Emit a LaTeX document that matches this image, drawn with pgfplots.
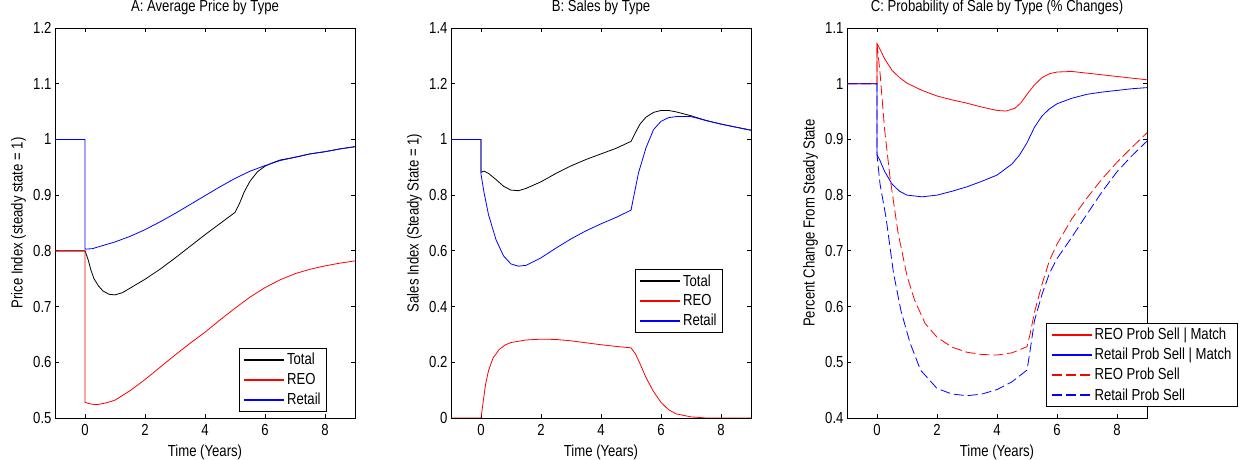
\documentclass[border=0pt]{standalone}
\usepackage{fontspec}
\setmainfont{Liberation Sans}[FakeStretch=0.82]
\usepackage{pgfplots}
\pgfplotsset{compat=1.18}
\pgfplotsset{
  every axis/.append style={
    scale only axis, width=300pt, height=390pt, anchor=south west,
    font=\fontsize{16}{19}\selectfont,
    /pgf/number format/assume math mode=true,
    xmin=-1, xmax=9, xtick={0,2,4,6,8},
    tick align=inside, major tick length=4pt,
    axis line style={line width=0.8pt}, every tick/.style={black, line width=0.8pt},
    xlabel={Time (Years)},
    xlabel style={at={(axis description cs:0.5,-0.087)}, anchor=center},
    ylabel style={at={(axis description cs:-0.122,0.5)}, anchor=center},
    title style={at={(axis description cs:0.5,1.038)}, anchor=center},
    xticklabel style={yshift=-3pt},
    legend cell align=left,
    legend style={line width=1pt, font=\fontsize{16}{19}\selectfont, inner xsep=4pt, inner ysep=3pt, row sep=3pt},
    legend image code/.code={\draw[#1] (0pt,0pt) -- (40pt,0pt);},
    legend image post style={line width=1.6pt},
  },
}
\begin{document}
\begin{tikzpicture}
\path[use as bounding box] (0,0) rectangle (1239pt,460pt);
% Panel A
\begin{axis}[at={(55pt,42pt)},
  ymin=0.5, ymax=1.2, ytick={0.5,0.6,0.7,0.8,0.9,1,1.1,1.2},
  title={A: Average Price by Type}, ylabel={Price Index (steady state = 1)},
  legend style={at={(axis description cs:0.907,0.016)}, anchor=south east}]
\addplot[draw=black, line width=0.8pt] coordinates {(-1,0.8)(0,0.8)(0.1,0.785)(0.2,0.765)(0.3,0.750)(0.45,0.737)(0.6,0.728)(0.8,0.722)(1,0.721)(1.25,0.725)(1.5,0.733)(2,0.749)(2.5,0.767)(3,0.787)(3.5,0.808)(4,0.829)(4.5,0.849)(5,0.869)(5.15,0.885)(5.3,0.905)(5.5,0.925)(5.75,0.942)(6,0.952)(6.25,0.958)(6.5,0.963)(7,0.968)(7.5,0.974)(8,0.978)(8.5,0.983)(9,0.987)};
\addlegendentry{Total}
\addplot[draw=red, line width=0.8pt] coordinates {(-1,0.8)(0,0.8)(0,0.528)(0.2,0.525)(0.4,0.524)(0.7,0.527)(1,0.532)(1.5,0.549)(2,0.569)(2.5,0.591)(3,0.613)(3.5,0.634)(4,0.654)(4.5,0.676)(5,0.697)(5.5,0.717)(6,0.734)(6.5,0.748)(7,0.759)(7.5,0.767)(8,0.773)(8.5,0.778)(9,0.782)};
\addlegendentry{REO}
\addplot[draw=blue, line width=0.8pt] coordinates {(-1,1)(0,1)(0,0.803)(0.25,0.804)(0.5,0.808)(1,0.816)(1.5,0.826)(2,0.838)(2.5,0.852)(3,0.867)(3.5,0.883)(4,0.899)(4.5,0.915)(5,0.930)(5.5,0.943)(6,0.953)(6.5,0.962)(7,0.968)(7.5,0.974)(8,0.978)(8.5,0.983)(9,0.987)};
\addlegendentry{Retail}
\end{axis}
% Panel B
\begin{axis}[at={(451pt,42pt)},
  ymin=0, ymax=1.4, ytick={0,0.2,0.4,0.6,0.8,1,1.2,1.4},
  title={B: Sales by Type}, ylabel={Sales Index (Steady State = 1)},
  legend style={at={(axis description cs:0.907,0.218)}, anchor=south east}]
\addplot[draw=black, line width=0.8pt] coordinates {(-1,1)(0,1)(0,0.882)(0.1,0.886)(0.25,0.878)(0.5,0.856)(0.75,0.832)(1,0.818)(1.25,0.816)(1.5,0.824)(2,0.848)(2.5,0.878)(3,0.905)(3.5,0.928)(4,0.948)(4.5,0.968)(5,0.993)(5.15,1.025)(5.3,1.055)(5.5,1.080)(5.75,1.097)(6,1.104)(6.25,1.104)(6.5,1.099)(7,1.085)(7.5,1.068)(8,1.055)(8.5,1.044)(9,1.033)};
\addlegendentry{Total}
\addplot[draw=red, line width=0.8pt] coordinates {(-1,0)(0,0)(0.05,0.04)(0.15,0.12)(0.25,0.17)(0.4,0.215)(0.6,0.245)(0.8,0.262)(1,0.271)(1.5,0.280)(2,0.283)(2.5,0.282)(3,0.277)(3.5,0.270)(4,0.263)(4.5,0.257)(5,0.252)(5.15,0.23)(5.3,0.195)(5.5,0.145)(5.75,0.095)(6,0.056)(6.25,0.03)(6.5,0.015)(7,0.004)(7.5,0)(9,0)};
\addlegendentry{REO}
\addplot[draw=blue, line width=0.8pt] coordinates {(-1,1)(0,1)(0,0.875)(0.1,0.81)(0.25,0.73)(0.5,0.64)(0.75,0.582)(1,0.553)(1.25,0.545)(1.5,0.548)(2,0.575)(2.5,0.61)(3,0.643)(3.5,0.672)(4,0.697)(4.5,0.72)(5,0.746)(5.1,0.80)(5.25,0.88)(5.5,0.97)(5.75,1.035)(6,1.065)(6.25,1.078)(6.5,1.082)(7,1.082)(7.5,1.068)(8,1.055)(8.5,1.044)(9,1.033)};
\addlegendentry{Retail}
\end{axis}
% Panel C
\begin{axis}[at={(847pt,42pt)},
  ymin=0.4, ymax=1.1, ytick={0.4,0.5,0.6,0.7,0.8,0.9,1,1.1},
  title={C: Probability of Sale by Type (\% Changes)}, ylabel={Percent Change From Steady State},
  legend style={at={(axis description cs:1.303,0.028)}, anchor=south east}]
\addplot[draw=red, line width=0.8pt] coordinates {(-1,1)(0,1)(0,1.072)(0.1,1.062)(0.25,1.045)(0.5,1.024)(0.75,1.011)(1,1.001)(1.5,0.988)(2,0.978)(2.5,0.971)(3,0.965)(3.5,0.958)(4,0.952)(4.3,0.951)(4.6,0.956)(4.8,0.966)(5,0.981)(5.25,0.998)(5.5,1.011)(5.75,1.018)(6,1.021)(6.5,1.022)(7,1.019)(7.5,1.016)(8,1.013)(8.5,1.010)(9,1.007)};
\addlegendentry{REO Prob Sell | Match}
\addplot[draw=blue, line width=0.8pt] coordinates {(-1,1)(0,1)(0,0.873)(0.1,0.862)(0.25,0.843)(0.5,0.820)(0.75,0.807)(1,0.800)(1.5,0.797)(2,0.800)(2.5,0.807)(3,0.815)(3.5,0.825)(4,0.836)(4.5,0.856)(4.75,0.872)(5,0.894)(5.25,0.922)(5.5,0.942)(5.75,0.955)(6,0.964)(6.5,0.974)(7,0.981)(7.5,0.985)(8,0.988)(8.5,0.991)(9,0.993)};
\addlegendentry{Retail Prob Sell | Match}
\addplot[draw=red, line width=0.8pt, dash pattern=on 10pt off 4pt] coordinates {(-1,1)(0,1)(0,1.072)(0.1,1.02)(0.25,0.92)(0.43,0.833)(0.7,0.733)(1,0.655)(1.25,0.612)(1.6,0.570)(2,0.545)(2.5,0.527)(3,0.518)(3.5,0.514)(4,0.513)(4.5,0.517)(5,0.528)(5.1,0.55)(5.25,0.59)(5.5,0.64)(5.75,0.683)(6,0.712)(6.5,0.758)(7,0.795)(7.5,0.829)(8,0.859)(8.5,0.886)(9,0.912)};
\addlegendentry{REO Prob Sell}
\addplot[draw=blue, line width=0.8pt, dash pattern=on 10pt off 4pt] coordinates {(-1,1)(0,1)(0,0.873)(0.1,0.82)(0.3,0.76)(0.55,0.66)(0.8,0.592)(1.1,0.535)(1.45,0.486)(2,0.453)(2.5,0.443)(3,0.44)(3.5,0.443)(4,0.451)(4.5,0.465)(5,0.486)(5.1,0.52)(5.25,0.575)(5.5,0.622)(5.75,0.66)(6,0.686)(6.5,0.725)(7,0.766)(7.5,0.806)(8,0.842)(8.5,0.871)(9,0.897)};
\addlegendentry{Retail Prob Sell}
\end{axis}
\end{tikzpicture}
\end{document}
